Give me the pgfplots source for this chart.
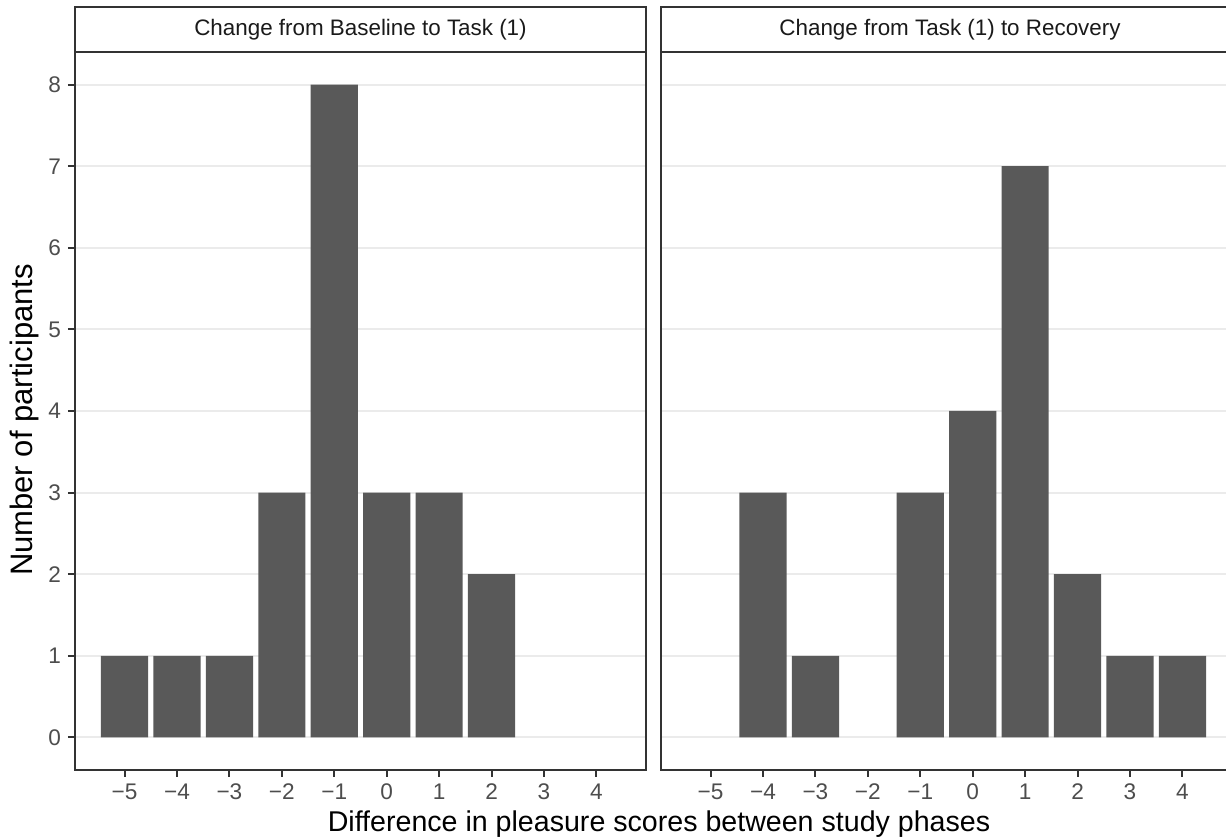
\documentclass[border=0pt]{standalone}
\usepackage{fontspec}
\setmainfont{Liberation Sans}
\usepackage{pgfplots}
\pgfplotsset{compat=1.18}
\definecolor{barc}{HTML}{595959}
\definecolor{gridc}{HTML}{EBEBEB}
\definecolor{axc}{HTML}{333333}
\definecolor{tlc}{HTML}{4D4D4D}
\definecolor{stc}{HTML}{1A1A1A}
\pgfplotsset{
  panel/.style={
    scale only axis, width=285.5pt, height=359pt,
    xmin=-5.945, xmax=4.945, ymin=-0.4, ymax=8.4,
    xtick={-5,-4,-3,-2,-1,0,1,2,3,4},
    xticklabels={−5,−4,−3,−2,−1,0,1,2,3,4},
    ytick={0,1,2,3,4,5,6,7,8},
    tick pos=left, tick align=outside,
    major tick length=3.5pt,
    every tick/.style={axc, line width=1pt},
    axis line style={axc, line width=1pt},
    ymajorgrids, grid style={gridc, line width=1pt},
    tick label style={font=\fontsize{11.3}{13}\selectfont, text=tlc},
    ybar, bar width=0.9,
  }
}
\begin{document}
\begin{tikzpicture}[x=1pt,y=1pt]
\begin{axis}[panel, at={(37.5pt,34.5pt)}, anchor=south west,
  yticklabels={0,1,2,3,4,5,6,7,8}]
\addplot[fill=barc, draw=none] coordinates {(-5,1) (-4,1) (-3,1) (-2,3) (-1,8) (0,3) (1,3) (2,2)};
\end{axis}
\begin{axis}[panel, at={(330.5pt,34.5pt)}, anchor=south west,
  yticklabels={}, ytick style={draw=none}]
\addplot[fill=barc, draw=none] coordinates {(-4,3) (-3,1) (-1,3) (0,4) (1,7) (2,2) (3,1) (4,1)};
\end{axis}
% strips
\draw[axc, line width=1pt, fill=white] (37.5,393.5) rectangle (323,416);
\draw[axc, line width=1pt, fill=white] (330.5,393.5) rectangle (616,416);
\node[text=stc, font=\fontsize{11.2}{13}\selectfont] at (180.25,404.75) {Change from Baseline to Task (1)};
\node[text=stc, font=\fontsize{11.2}{13}\selectfont] at (475,404.75) {Change from Task (1) to Recovery};
% axis titles
\node[anchor=base, font=\fontsize{14.3}{16}\selectfont] at (329.5,3.5) {Difference in pleasure scores between study phases};
\node[anchor=base, rotate=90, font=\fontsize{15.5}{17}\selectfont] at (16,209.5) {Number of participants};
\pgfresetboundingbox
\useasboundingbox (0,0) rectangle (613,419.5);
\end{tikzpicture}
\end{document}
